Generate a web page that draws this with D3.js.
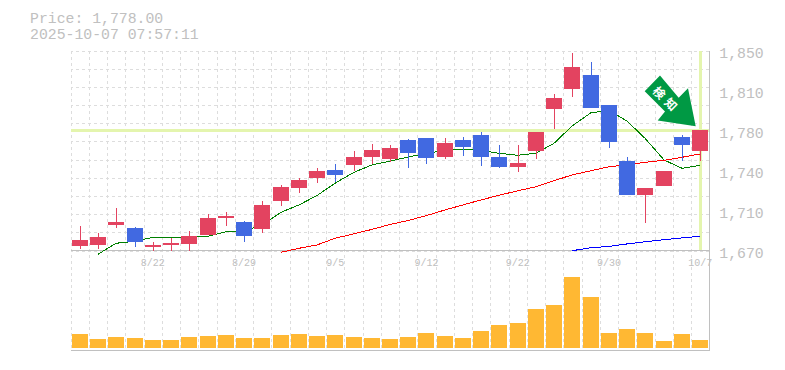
<!DOCTYPE html>
<html>
<head>
<meta charset="utf-8">
<script src="https://cdn.jsdelivr.net/npm/d3@7"></script>
<style>
    html, body { margin: 0; padding: 0; background: #ffffff; }
    svg { display: block; }
    text { font-family: "Liberation Mono", "DejaVu Sans Mono", monospace; fill: #c0c0c0; }
    .grid line { stroke: #dddddd; stroke-dasharray: 3 3; shape-rendering: crispEdges; }
    .grid .domain { display: none; }
    .ma { fill: none; shape-rendering: crispEdges; }
</style>
</head>
<body>
<svg id="chart" width="785" height="370"></svg>
<script>
const dates = ['8/18','8/19','8/20','8/21','8/22','8/25','8/26','8/27','8/28','8/29',
    '9/1','9/2','9/3','9/4','9/5','9/8','9/9','9/10','9/11','9/12',
    '9/16','9/17','9/18','9/19','9/22','9/24','9/25','9/26','9/29','9/30',
    '10/1','10/2','10/3','10/6','10/7'];
const tickDates = ['8/22','8/29','9/5','9/12','9/22','9/30','10/7'];
const priceTicks = [1670, 1706, 1742, 1778, 1814, 1850];

const opens = [1674.3,1675.2,1693.2,1690.3,1673.4,1675.2,1676,1684,1699,1695.6,1689.6,1715,1726,1735,1742.5,1747,1754,1752,
    1769.5,1771,1754,1769.5,1774,1754,1745,1759.5,1797,1815,1828,1801,1750.5,1720,1728,1772,1759.5];
const highs = [1692,1685.8,1708,1691,1677.6,1681.5,1687.6,1703,1704.6,1696.5,1714.5,1729,1735,1744,1748,1759.5,1766,1765,
    1770,1771,1771,1772,1776.6,1765,1765,1776.6,1811,1848,1840,1801,1754,1726,1741.5,1774,1778.5];
const lows = [1671.6,1671.6,1690.5,1673.4,1670,1670,1670,1684,1692.3,1678,1686,1710,1722,1731,1731.6,1741.5,1748,1750,
    1744,1748,1752,1755,1746,1744,1740.6,1752,1779,1808,1798,1762,1720,1695,1728,1750.5,1750.5];
const closes = [1679.5,1682,1695.6,1678,1675,1676.8,1683,1699,1701,1683.3,1711,1727,1733.5,1741.5,1738,1754,1760.5,1762,
    1758,1753,1767,1763,1754,1745,1749,1776.6,1807,1835,1798,1767.6,1720,1726,1741.5,1765,1778.5];
const volumes = [14,9,11,10,8,8,11,12,13,10,10,13,14,12,13,11,10,9,11,15,12,10,17,23,25,39,43,71,51,15,19,15,7,14,8];

const maShort = [null,1666.6,1676.5,1678.3,1681.9,1681.9,1681.9,1682.8,1686.9,1687.6,1693,1704.4,1711,1719.5,1730.5,1740.4,1747,1750.5,
    1754,1757.5,1760,1761,1760,1757.5,1755.7,1757.5,1766.5,1782,1794,1796,1786.5,1771,1751.5,1744,1746.7];
const maMid = [null,null,null,null,null,null,null,null,null,null,null,1668.4,1672,1675,1681,1685,1689,1693.4,
    1697,1701.3,1706.5,1711,1715.5,1719.7,1723.8,1727.4,1732.8,1738,1741.8,1745.4,1747,1749.4,1751.2,1753.9,1756.9];
const maLong = [null,null,null,null,null,null,null,null,null,null,null,null,null,null,null,null,null,null,
    null,null,null,null,null,null,null,null,null,1669.8,1672.5,1673.7,1675.9,1677.9,1679.7,1681.3,1682.8];

const currentPrice = 1778;
const priceLabel = 'Price: 1,778.00';
const timeLabel = '2025-10-07 07:57:11';
const arrowLabel = ['検', '知'];

const upColor = '#e34360';
const downColor = '#4169e1';
const volColor = '#ffb833';
const markColor = '#e4f5ae';
const axisColor = '#c0c0c0';

const left = 70.7, right = 709.3;
const priceTop = 50.5, priceBottom = 250.5;
const volTop = 277, volBottom = 348;

const svg = d3.select('#chart');

const xScale = d3.scaleBand().domain(dates).range([left, right]).paddingInner(0.12).paddingOuter(0.06);
const yScale = d3.scaleLinear().domain([1670, 1850]).range([priceBottom, priceTop]);
const volScale = d3.scaleLinear().domain([0, d3.max(volumes)]).range([volBottom, volTop]);
const xMid = d => Math.round(xScale(d) + xScale.bandwidth() / 2);

// grid, vertical lines run through both panels
const vGrid = dates.map((d, i) => left + i * xScale.step()).concat([right]);
svg.append('g').attr('class', 'grid')
    .selectAll('line').data(vGrid).join('line')
    .attr('x1', d => Math.round(d) + 0.5).attr('x2', d => Math.round(d) + 0.5)
    .attr('y1', priceTop).attr('y2', 350);

const hGrid = d3.range(12).map(i => 1670 + i * 180 / 11);
svg.append('g').attr('class', 'grid')
    .attr('transform', `translate(${right},0)`)
    .call(d3.axisLeft(yScale).tickValues(hGrid).tickSize(right - left).tickFormat(''));

// current price and last day markers
svg.append('line')
    .attr('x1', left).attr('x2', right)
    .attr('y1', yScale(currentPrice) - 0.5).attr('y2', yScale(currentPrice) - 0.5)
    .attr('stroke', markColor).attr('stroke-width', 3).attr('shape-rendering', 'crispEdges');
svg.append('line')
    .attr('x1', xMid('10/7') + 0.5).attr('x2', xMid('10/7') + 0.5)
    .attr('y1', priceTop).attr('y2', priceBottom - 1)
    .attr('stroke', markColor).attr('stroke-width', 3).attr('shape-rendering', 'crispEdges');

// panel borders
[[left, right, priceBottom, priceBottom], [left, right, 350.5, 350.5], [right + 0.5, right + 0.5, priceTop, 350.5]]
    .forEach(l => svg.append('line')
        .attr('x1', l[0]).attr('x2', l[1]).attr('y1', l[2]).attr('y2', l[3])
        .attr('stroke', axisColor).attr('shape-rendering', 'crispEdges'));

// volume
svg.append('g').selectAll('rect').data(dates).join('rect')
    .attr('x', d => xMid(d) - 8)
    .attr('y', (d, i) => volScale(volumes[i]))
    .attr('width', 16)
    .attr('height', (d, i) => volBottom - volScale(volumes[i]))
    .attr('fill', volColor);

// moving averages
const maLine = d3.line()
    .defined(d => d.v !== null)
    .x(d => xMid(d.date))
    .y(d => yScale(d.v));
[[maShort, '#008000'], [maMid, '#ff0000'], [maLong, '#0000ff']].forEach(m => {
    svg.append('path').attr('class', 'ma')
        .attr('stroke', m[1])
        .attr('d', maLine(dates.map((date, i) => ({ date: date, v: m[0][i] }))));
});

// candles
const colorOf = i => closes[i] >= opens[i] ? upColor : downColor;
const candles = svg.append('g').attr('shape-rendering', 'crispEdges');
candles.selectAll('line').data(dates).join('line')
    .attr('x1', d => xMid(d) + 0.5).attr('x2', d => xMid(d) + 0.5)
    .attr('y1', (d, i) => yScale(highs[i]))
    .attr('y2', (d, i) => yScale(lows[i]))
    .attr('stroke', (d, i) => colorOf(i));
candles.selectAll('rect').data(dates).join('rect')
    .attr('x', d => xMid(d) - 8)
    .attr('y', (d, i) => yScale(Math.max(opens[i], closes[i])))
    .attr('width', 16)
    .attr('height', (d, i) => Math.abs(yScale(opens[i]) - yScale(closes[i])))
    .attr('fill', (d, i) => colorOf(i));

// arrow annotation, its tip sits just off the last candle
const arrow = svg.append('g')
    .attr('transform', `translate(${xMid('10/7') - 4.3},${yScale(currentPrice) - 4.3})`);
arrow.append('path')
    .attr('d', 'M-35.7,-50.7 L-51,-35 L-30.7,-14.7 L-38,-5.7 L0,0 L-7.7,-38 L-17,-28.4 Z')
    .attr('fill', '#009944');
arrow.selectAll('text').data(arrowLabel).join('text')
    .attr('transform', (d, i) => `translate(${-35.7 + i * 11.7},${-34 + i * 11.3}) rotate(45)`)
    .attr('text-anchor', 'middle')
    .attr('dominant-baseline', 'central')
    .style('font-family', '"Noto Sans CJK JP"')
    .style('font-weight', 'bold')
    .style('font-size', '12px')
    .style('fill', '#ffffff')
    .text(d => d);

// axes
const yAxis = d3.axisRight(yScale)
    .tickValues(priceTicks)
    .tickSize(0)
    .tickPadding(10)
    .tickFormat(d => d3.format(',')(Math.round(d / 10) * 10));
const yAxisG = svg.append('g')
    .attr('transform', `translate(${right},2)`)
    .call(yAxis)
    .call(g => g.select('.domain').remove());
yAxisG.selectAll('text').style('font-size', '14.8px').style('fill', axisColor);
yAxisG.attr('font-family', null);

const xAxisG = svg.append('g')
    .attr('transform', 'translate(0,256)')
    .call(d3.axisBottom(xScale).tickValues(tickDates).tickSize(0).tickPadding(0))
    .call(g => g.select('.domain').remove());
xAxisG.selectAll('text').attr('dy', '0.95em').style('font-size', '10px').style('fill', axisColor);
xAxisG.attr('font-family', null);

// header text
svg.append('text').attr('x', 30).attr('y', 23).style('font-size', '14.8px').text(priceLabel);
svg.append('text').attr('x', 30).attr('y', 38.5).style('font-size', '14.8px').text(timeLabel);
</script>
</body>
</html>
